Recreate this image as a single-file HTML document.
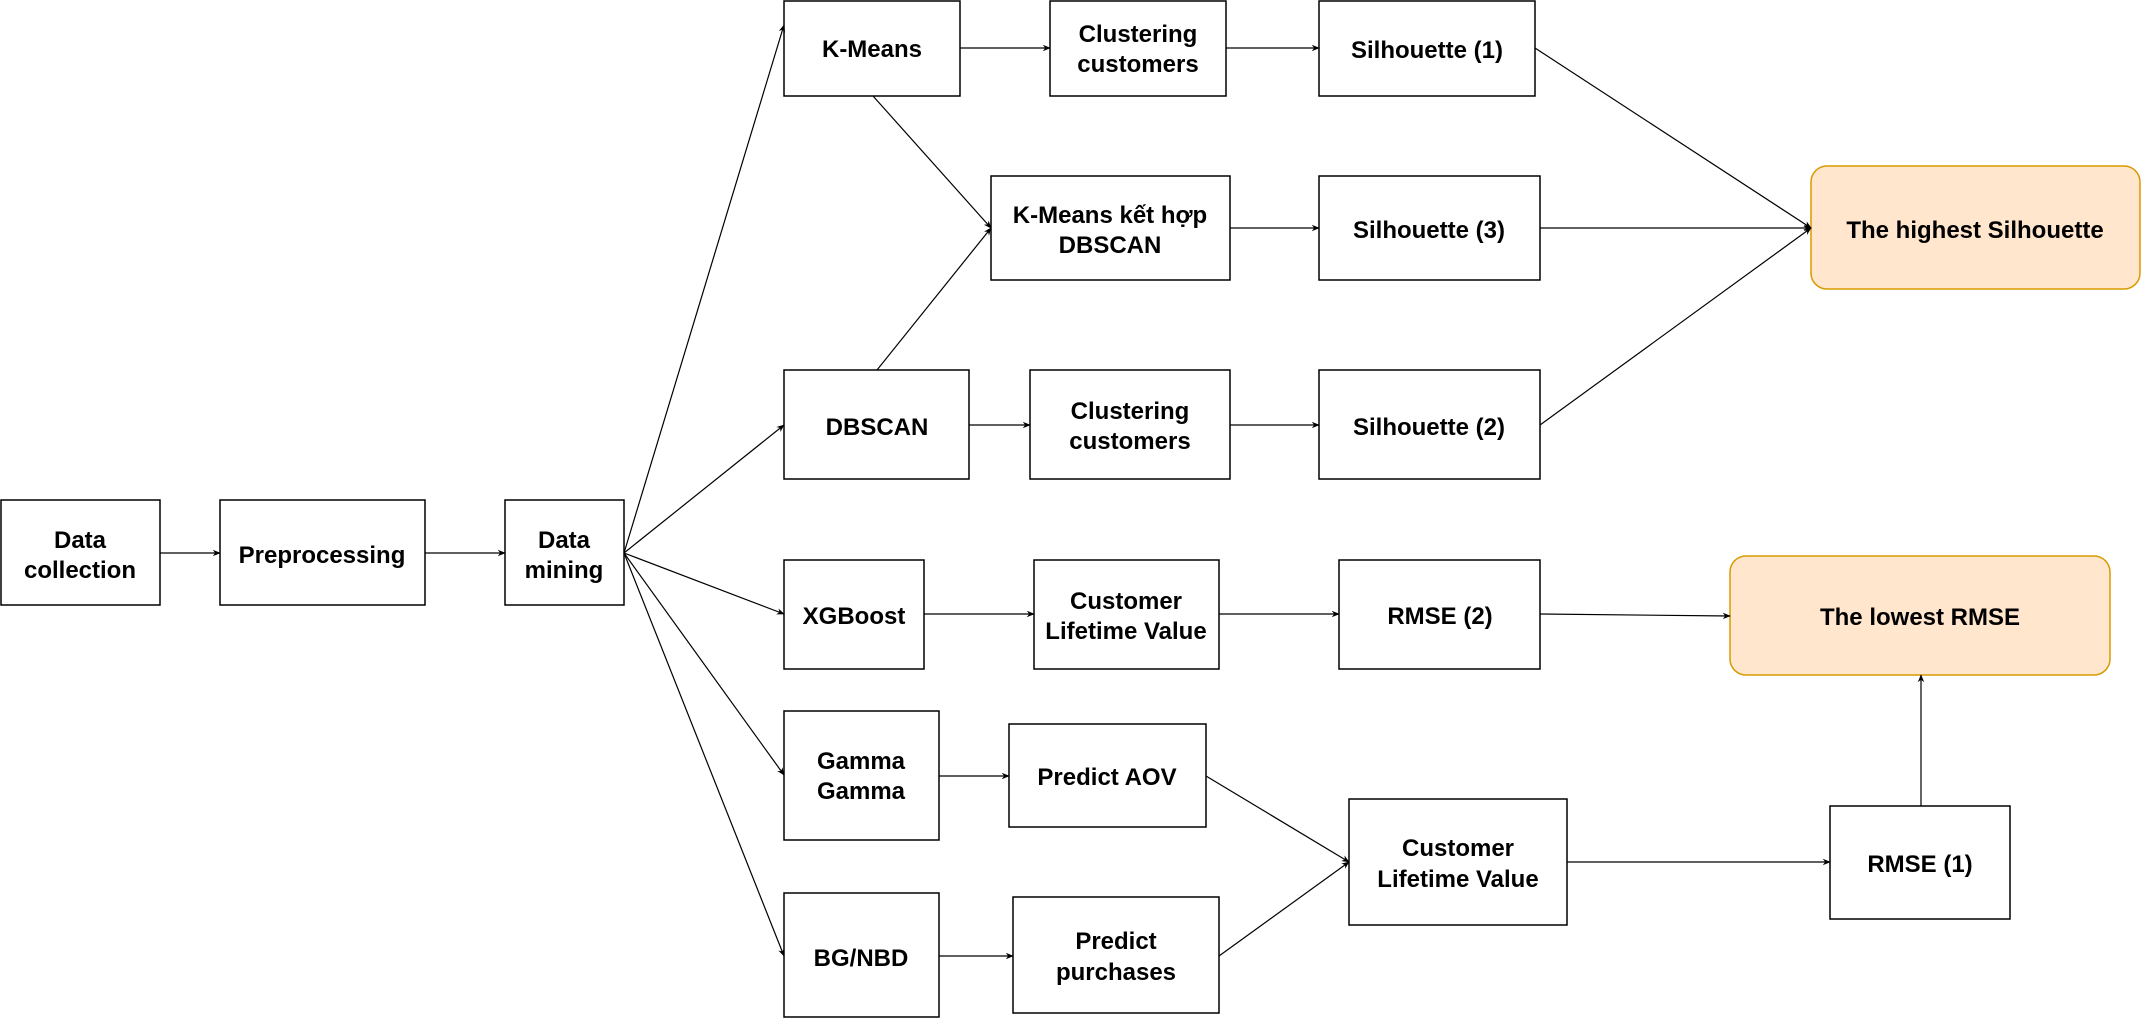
<!DOCTYPE html>
<html><head><meta charset="utf-8"><style>
html,body{margin:0;padding:0;background:#fff;}
svg{display:block;}
text{font-family:"Liberation Sans","Noto Sans CJK SC",sans-serif;font-weight:bold;font-size:24px;fill:#000;text-anchor:middle;}
</style></head><body>
<svg width="2141" height="1019" viewBox="0 0 2141 1019" xmlns="http://www.w3.org/2000/svg">
<defs><marker id="a" viewBox="0 0 10 10" refX="9" refY="5" markerWidth="8" markerHeight="8" orient="auto" markerUnits="userSpaceOnUse"><path d="M0,1 L10,5 L0,9 L3,5 z" fill="#000"/></marker></defs>
<g fill="#fff" stroke="#000" stroke-width="1.5">
<rect x="1" y="500" width="159" height="105"/>
<rect x="220" y="500" width="205" height="105"/>
<rect x="505" y="500" width="119" height="105"/>
<rect x="784" y="1" width="176" height="95"/>
<rect x="1050" y="1" width="176" height="95"/>
<rect x="1319" y="1" width="216" height="95"/>
<rect x="991" y="176" width="239" height="104"/>
<rect x="1319" y="176" width="221" height="104"/>
<rect x="784" y="370" width="185" height="109"/>
<rect x="1030" y="370" width="200" height="109"/>
<rect x="1319" y="370" width="221" height="109"/>
<rect x="784" y="560" width="140" height="109"/>
<rect x="1034" y="560" width="185" height="109"/>
<rect x="1339" y="560" width="201" height="109"/>
<rect x="784" y="711" width="155" height="129"/>
<rect x="1009" y="724" width="197" height="103"/>
<rect x="784" y="893" width="155" height="124"/>
<rect x="1013" y="897" width="206" height="116"/>
<rect x="1349" y="799" width="218" height="126"/>
<rect x="1830" y="806" width="180" height="113"/>
</g>
<g fill="#ffe6cc" stroke="#d79b00" stroke-width="1.5">
<rect x="1811" y="166" width="329" height="123" rx="16"/>
<rect x="1730" y="556" width="380" height="119" rx="16"/>
</g>
<g stroke="#000" stroke-width="1.2" fill="none" marker-end="url(#a)">
<line x1="160" y1="553" x2="220" y2="553"/>
<line x1="425" y1="553" x2="505" y2="553"/>
<line x1="624" y1="553" x2="784" y2="25"/>
<line x1="624" y1="553" x2="784" y2="425"/>
<line x1="624" y1="553" x2="784" y2="614"/>
<line x1="624" y1="553" x2="784" y2="775"/>
<line x1="624" y1="553" x2="784" y2="956"/>
<line x1="960" y1="48" x2="1050" y2="48"/>
<line x1="1226" y1="48" x2="1319" y2="48"/>
<line x1="873" y1="96" x2="991" y2="228"/>
<line x1="877" y1="370" x2="991" y2="228"/>
<line x1="1230" y1="228" x2="1319" y2="228"/>
<line x1="969" y1="425" x2="1030" y2="425"/>
<line x1="1230" y1="425" x2="1319" y2="425"/>
<line x1="1535" y1="48" x2="1811" y2="228"/>
<line x1="1540" y1="228" x2="1811" y2="228"/>
<line x1="1540" y1="425" x2="1811" y2="228"/>
<line x1="924" y1="614" x2="1034" y2="614"/>
<line x1="1219" y1="614" x2="1339" y2="614"/>
<line x1="1540" y1="614" x2="1730" y2="616"/>
<line x1="939" y1="776" x2="1009" y2="776"/>
<line x1="939" y1="956" x2="1013" y2="956"/>
<line x1="1206" y1="776" x2="1349" y2="862"/>
<line x1="1219" y1="956" x2="1349" y2="862"/>
<line x1="1567" y1="862" x2="1830" y2="862"/>
<line x1="1921" y1="806" x2="1921" y2="675"/>
</g>
<text x="80" y="548">Data</text><text x="80" y="578">collection</text>
<text x="322" y="563">Preprocessing</text>
<text x="564" y="548">Data</text><text x="564" y="578">mining</text>
<text x="872" y="57">K-Means</text>
<text x="1138" y="42">Clustering</text><text x="1138" y="72">customers</text>
<text x="1427" y="58">Silhouette (1)</text>
<text x="1110" y="223">K-Means kết hợp</text><text x="1110" y="253">DBSCAN</text>
<text x="1429" y="238">Silhouette (3)</text>
<text x="1975" y="238">The highest Silhouette</text>
<text x="877" y="435">DBSCAN</text>
<text x="1130" y="419">Clustering</text><text x="1130" y="449">customers</text>
<text x="1429" y="435">Silhouette (2)</text>
<text x="854" y="624">XGBoost</text>
<text x="1126" y="609">Customer</text><text x="1126" y="639">Lifetime Value</text>
<text x="1440" y="624">RMSE (2)</text>
<text x="1920" y="625">The lowest RMSE</text>
<text x="861" y="769">Gamma</text><text x="861" y="799">Gamma</text>
<text x="1107" y="785">Predict AOV</text>
<text x="861" y="966">BG/NBD</text>
<text x="1116" y="949">Predict</text><text x="1116" y="980">purchases</text>
<text x="1458" y="856">Customer</text><text x="1458" y="887">Lifetime Value</text>
<text x="1920" y="872">RMSE (1)</text>
</svg>
</body></html>
